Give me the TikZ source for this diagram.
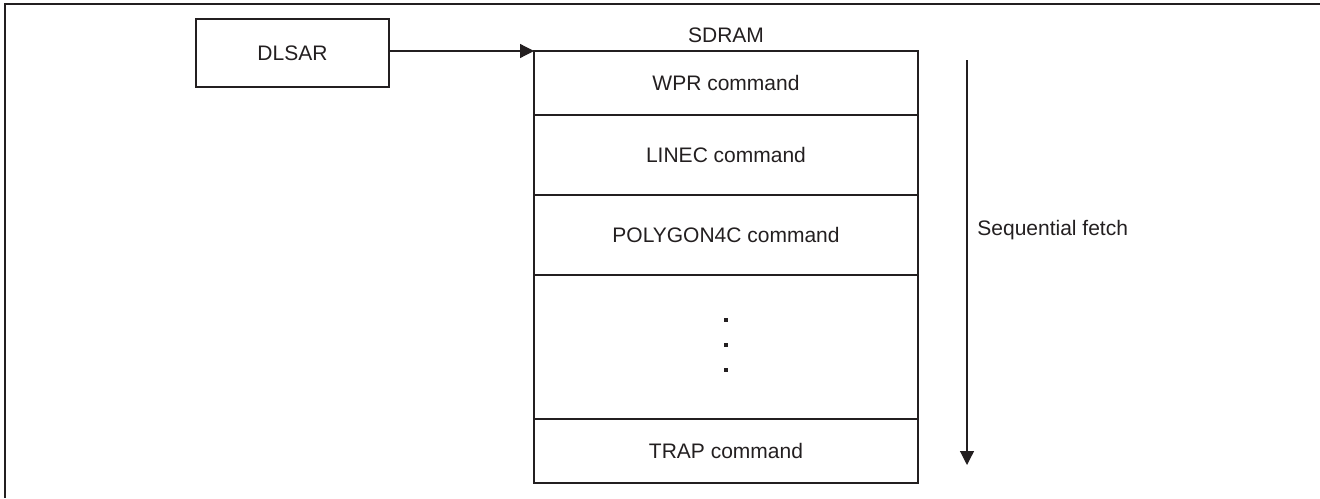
\documentclass[tikz,border=0pt]{standalone}
\usepackage{fontspec}
\setmainfont{Liberation Sans}
\usetikzlibrary{arrows.meta}
\definecolor{ink}{RGB}{35,31,32}
\begin{document}
\begin{tikzpicture}[x=0.5pt,y=-0.5pt,
  every node/.style={font=\fontsize{10.5}{12.6}\selectfont, text=ink},
  edge/.style={draw=ink, line width=1.2pt},
  box/.style={draw=ink, line width=1.2pt, rectangle, inner sep=0pt, outer sep=0pt},
  memrow/.style={box, minimum width=192pt, anchor=north},
  dotmark/.style={fill=ink, rectangle, inner sep=0pt, minimum size=2pt},
  link/.style={draw=ink, line width=0.6pt, -{Triangle[length=7pt,width=7pt]}}]

  % canvas
  \useasboundingbox (0,0) rectangle (1320,498);

  % frame rule (top and left)
  \coordinate (ftl) at (5,4);
  \coordinate (ftr) at (1320,4);
  \coordinate (fbl) at (5,498);
  \draw[edge] (ftr) -- (ftl) -- (fbl);

  % start address register
  \node[box, minimum width=96.5pt, minimum height=34pt] (dlsar) at (292.5,53) {DLSAR};

  % command list in memory
  \node[memrow, minimum height=32pt] (wpr) at (726,51) {WPR command};
  \node[memrow, minimum height=40pt] (linec) at (wpr.south) {LINEC command};
  \node[memrow, minimum height=40pt] (poly) at (linec.south) {POLYGON4C command};
  \node[memrow, minimum height=72pt] (gap) at (poly.south) {};
  \node[memrow, minimum height=32pt] (trap) at (gap.south) {TRAP command};
  \node[anchor=base, inner sep=0pt] (sdram) at (726,42) {SDRAM};

  % continuation marks
  \node[dotmark] (dot1) at (726,320) {};
  \node[dotmark] (dot2) at (726,345) {};
  \node[dotmark] (dot3) at (726,370) {};

  % pointer into the list
  \draw[link] (dlsar.east |- wpr.north west) -- (wpr.north west);

  % fetch direction
  \coordinate (fetchtop) at (967,60);
  \coordinate (fetchend) at (967,465);
  \draw[link] (fetchtop) -- (fetchend);
  \node[anchor=base west, inner sep=0pt] (fetch) at (977,235) {Sequential fetch};
\end{tikzpicture}
\end{document}
